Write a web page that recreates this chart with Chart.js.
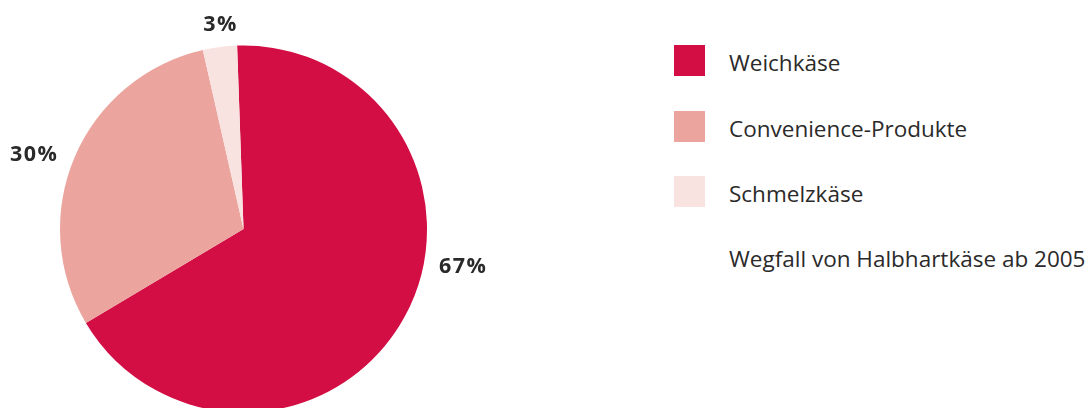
<!DOCTYPE html>
<html lang="de">
<head>
<meta charset="utf-8">
<script src="https://cdn.jsdelivr.net/npm/chart.js@4/dist/chart.umd.min.js"></script>
<style>
  html, body { margin: 0; padding: 0; background: #fff; }
  body { width: 1089px; height: 408px; overflow: hidden; position: relative;
         font-family: "Open Sans", "Noto Sans", sans-serif; color: #2b2a2a; }
  #pie-wrap { position: absolute; left: 0; top: 0; width: 600px; height: 458px; }
  .leg-item { position: absolute; left: 674px; height: 31px; }
  .leg-box { position: absolute; left: 0; top: 0; width: 31px; height: 31px; }
  .leg-text { position: absolute; left: 55px; top: 7px; font-size: 22.5px; line-height: 22px; white-space: nowrap; }
  .note { position: absolute; left: 729px; top: 248px; font-size: 22.5px; line-height: 22px; white-space: nowrap; }
</style>
</head>
<body>
<div id="pie-wrap"><canvas id="pie"></canvas></div>
<div id="legend"></div>
<div class="note" id="note"></div>

<script>
"use strict";

// ── Data ──────────────────────────────────────────────────────────────
const categories = ['Weichkäse', 'Convenience-Produkte', 'Schmelzkäse'];
const shares     = [67, 30, 3];
const sliceColors = ['#d20e45', '#eba59e', '#f9e3e1'];
const footnote = 'Wegfall von Halbhartkäse ab 2005';

// label placement around the pie: angle (deg, clockwise from 12 o'clock) and distance from centre
const labelAngle = [99.8, 289.4, 353.6];
const labelDist  = [223, 222, 205];

// ── Percent labels drawn next to the pie ──────────────────────────────
const pctLabels = {
  id: 'pctLabels',
  afterDraw(chart) {
    const { ctx } = chart;
    const arc0 = chart.getDatasetMeta(0).data[0];
    const cx = arc0.x, cy = arc0.y;
    ctx.save();
    ctx.font = '700 21.5px "Open Sans", "Noto Sans", sans-serif';
    ctx.letterSpacing = '1.5px';
    ctx.fillStyle = '#2b2a2a';
    ctx.textAlign = 'center';
    ctx.textBaseline = 'middle';
    shares.forEach((v, i) => {
      const a = labelAngle[i] * Math.PI / 180;
      const x = cx + Math.sin(a) * labelDist[i];
      const y = cy - Math.cos(a) * labelDist[i];
      ctx.fillText(v + '%', x, y);
    });
    ctx.restore();
  }
};

// ── Pie ───────────────────────────────────────────────────────────────
const canvas = document.getElementById('pie');
const chart = new Chart(canvas.getContext('2d'), {
  type: 'pie',
  data: {
    labels: categories,
    datasets: [{
      data: shares,
      backgroundColor: sliceColors,
      borderWidth: 0,
    }]
  },
  options: {
    responsive: true,
    maintainAspectRatio: false,
    animation: false,
    rotation: -2,
    layout: { padding: { left: 60, right: 173, top: 45.5, bottom: 45.5 } },
    plugins: {
      legend: { display: false },
      tooltip: { enabled: false }
    }
  },
  plugins: [pctLabels]
});

// ── Legend ────────────────────────────────────────────────────────────
const legend = document.getElementById('legend');
categories.forEach((name, i) => {
  const item = document.createElement('div');
  item.className = 'leg-item';
  item.style.top = (45 + i * 65.5) + 'px';
  item.innerHTML = `<div class="leg-box" style="background:${sliceColors[i]}"></div>
    <div class="leg-text">${name}</div>`;
  legend.appendChild(item);
});
document.getElementById('note').textContent = footnote;
</script>
</body>
</html>
